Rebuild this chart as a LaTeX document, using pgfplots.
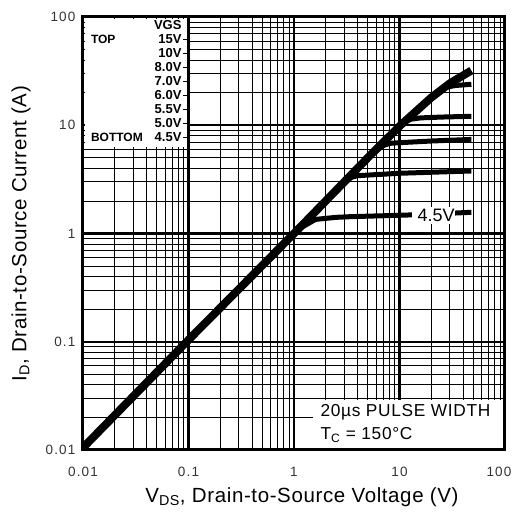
\documentclass[border=0pt]{standalone}
\usepackage{pgfplots}
\pgfplotsset{compat=1.18}
\usepackage{fontspec}
\setmainfont{Liberation Sans}
\newfontfamily\lsA[LetterSpace=3]{Liberation Sans}
\newfontfamily\lsB[LetterSpace=4]{Liberation Sans}
\newfontfamily\lsT[LetterSpace=9]{Liberation Sans}
\begin{document}
\begin{tikzpicture}
\useasboundingbox (-83pt,-63pt) rectangle (432pt,450pt);
\begin{axis}[
  at={(0pt,0pt)}, anchor=south west,
  scale only axis, width=422pt, height=433pt,
  xmode=log, ymode=log,
  xmin=0.01, xmax=100, ymin=0.01, ymax=100,
  xtick={0.01,0.1,1,10,100}, xticklabels={0.01,0.1,1,10,{\hspace*{-12pt}100}},
  ytick={0.01,0.1,1,10,100}, yticklabels={0.01,0.1,1,10,100},
  minor xtick={0.02,0.03,0.04,0.05,0.06,0.07,0.08,0.09,0.2,0.3,0.4,0.5,0.6,0.7,0.8,0.9,2,3,4,5,6,7,8,9,20,30,40,50,60,70,80,90},
  minor ytick={0.02,0.03,0.04,0.05,0.06,0.07,0.08,0.09,0.2,0.3,0.4,0.5,0.6,0.7,0.8,0.9,2,3,4,5,6,7,8,9,20,30,40,50,60,70,80,90},
  grid=both,
  major grid style={black, line width=2.4pt},
  minor grid style={black, line width=0.8pt},
  axis line style={line width=3pt},
  major tick length=0pt, minor tick length=0pt,
  /pgf/number format/assume math mode=true,
  tick label style={font=\lsT\fontsize{13.5}{14}\selectfont, text=black!80},
  xticklabel style={yshift=-14pt},
  yticklabel style={xshift=-4pt},
  xlabel={V\textsubscript{DS}, Drain-to-Source Voltage (V)},
  ylabel={I\textsubscript{D}, Drain-to-Source Current (A)},
  label style={font=\lsA\fontsize{20.5}{22}\selectfont},
  xlabel style={at={(axis description cs:0.519,-0.1085)}, anchor=center},
  ylabel style={at={(axis description cs:-0.147,0.5)}, anchor=center},
]
% white boxes
\fill[white] ([xshift=1.6pt,yshift=-1.6pt]axis cs:0.01,100) rectangle ([xshift=-1.3pt]axis cs:0.1,6.3);
\fill[white] ([yshift=1.6pt]axis cs:1.5,0.01) rectangle ([xshift=-1.6pt]axis cs:100,0.029);
% curves
\addplot[black, line width=8pt, line join=round] coordinates {(0.01,0.0105)(0.1,0.104)(1,1.0)(2,2.0)(3,3.0)(5,5.0)(10,9.8)(15,14)(20,18)(30,24.4)(48,32)};
\addplot[black, line width=5pt, line join=round] coordinates {(0.8,0.8)(1,0.98)(1.2,1.15)(1.6,1.35)(2.5,1.41)(3.4,1.43)(11.6,1.48)(20,1.51)(48,1.57)};
\addplot[black, line width=5pt, line join=round] coordinates {(2.5,2.5)(3,2.95)(3.5,3.3)(4,3.42)(6,3.5)(10,3.6)(20,3.68)(48,3.78)};
\addplot[black, line width=5pt, line join=round] coordinates {(5.5,5.5)(6.5,6.3)(8,6.8)(10,6.9)(20,7.15)(48,7.4)};
\addplot[black, line width=5pt, line join=round] coordinates {(9,9)(10.8,10.6)(13,11.4)(16,11.7)(25,11.9)(48,12.1)};
\addplot[black, line width=5pt, line join=round] coordinates {(22,19.5)(28,22.5)(34,23.3)(48,23.9)};
\node[fill=white, anchor=west, inner xsep=0pt, inner ysep=2pt, font=\fontsize{18}{20}\selectfont] at (axis cs:13.1,1.46) {\hspace{5.5pt}4.5V\hspace{1.5pt}};
\end{axis}
% legend
\begin{scope}[font=\bfseries\fontsize{13}{14}\selectfont]
\node[anchor=east] at (102pt,425pt) {VGS};
\node[anchor=west, font=\bfseries\fontsize{12}{13}\selectfont] at (4.5pt,411pt) {TOP};
\node[anchor=west, font=\bfseries\fontsize{12}{13}\selectfont] at (4.5pt,313pt) {BOTTOM};
\foreach \v [count=\i] in {15V,10V,8.0V,7.0V,6.0V,5.5V,5.0V,4.5V} {
  \node[anchor=east] at (102pt,{425pt-\i*14pt}) {\v};
  \draw[line width=0.6pt] (100pt,{425pt-\i*14pt}) -- (105pt,{425pt-\i*14pt});
}
\end{scope}
\begin{scope}[font=\lsB\fontsize{17.3}{19}\selectfont]
\node[anchor=west] at (234pt,38pt) {20\textmu s PULSE WIDTH};
\node[anchor=west] at (234pt,15pt) {T\textsubscript{C} = 150\textdegree C};
\end{scope}
\end{tikzpicture}
\end{document}
